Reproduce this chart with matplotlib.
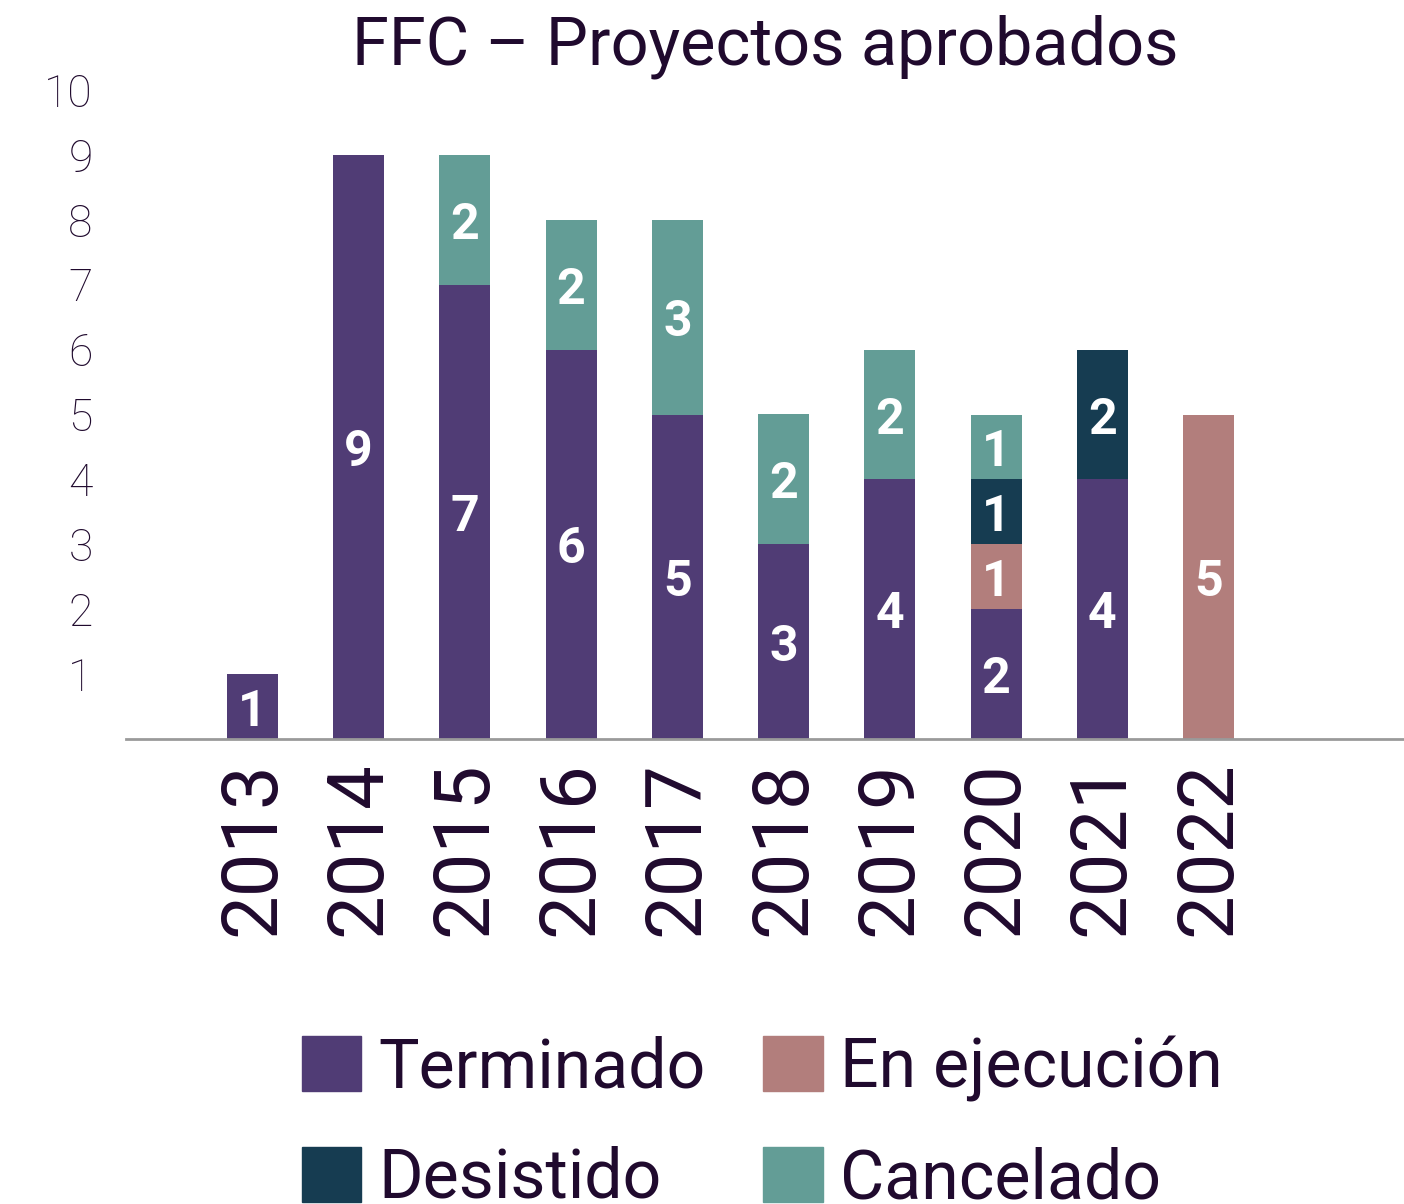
import matplotlib
matplotlib.use("Agg")
import matplotlib.pyplot as plt
import numpy as np
from matplotlib.patches import Patch

plt.rcParams['font.family'] = ['Roboto', 'DejaVu Sans']

years = ["2013", "2014", "2015", "2016", "2017", "2018", "2019", "2020", "2021", "2022"]
terminado = [1, 9, 7, 6, 5, 3, 4, 2, 4, 0]
en_ejecucion = [0, 0, 0, 0, 0, 0, 0, 1, 0, 5]
desistido = [0, 0, 0, 0, 0, 0, 0, 1, 2, 0]
cancelado = [0, 0, 2, 2, 3, 2, 2, 1, 0, 0]

series = [
    ("Terminado", terminado, "#503c75"),
    ("En ejecución", en_ejecucion, "#b27e7c"),
    ("Desistido", desistido, "#163c51"),
    ("Cancelado", cancelado, "#639d96"),
]

text_color = "#200a2e"

fig = plt.figure(figsize=(14.04, 12.04), dpi=100)
ax = fig.add_axes([126 / 1404, 1 - 739 / 1204, 1 - 126 / 1404, (739 - 90) / 1204])

x = np.arange(len(years))
bottom = np.zeros(len(years))
for name, vals, color in series:
    vals = np.array(vals, dtype=float)
    bars = ax.bar(x, vals, width=0.48, bottom=bottom, color=color, label=name, zorder=2)
    labels = [str(int(v)) if v > 0 else "" for v in vals]
    ax.bar_label(bars, labels=labels, label_type="center", color="white",
                 fontsize=36, fontweight="bold", padding=-4)
    bottom += vals

ax.set_xlim(-1.19, 10.84)
ax.set_ylim(0, 10)
ax.set_yticks(range(1, 11))
ax.set_yticklabels([str(i) for i in range(1, 11)])
ax.set_xticks(x)
ax.set_xticklabels(years, rotation=90)

ax.tick_params(axis="y", length=0, pad=24, labelsize=32, labelcolor=text_color)
ax.tick_params(axis="x", length=0, pad=16, labelsize=56, labelcolor=text_color)
for lab in ax.get_yticklabels():
    lab.set_fontweight("light")

for side in ["top", "right", "left"]:
    ax.spines[side].set_visible(False)
ax.spines["bottom"].set_color("#9a9a9a")
ax.spines["bottom"].set_linewidth(2)

fig.text(765 / 1404, 1 - 47 / 1204, "FFC – Proyectos aprobados", ha="center", va="center",
         fontsize=48, fontweight="normal", color=text_color)

handles = [Patch(color=c) for _, _, c in series]
names = [n for n, _, _ in series]
order = [0, 2, 1, 3]
leg = fig.legend([handles[i] for i in order], [names[i] for i in order],
                 loc="upper left", bbox_to_anchor=(302 / 1404, 1 - 1035 / 1204),
                 ncol=2, frameon=False, fontsize=49, handlelength=0.87, handleheight=0.87,
                 handletextpad=0.25, columnspacing=0.85, labelspacing=0.66, borderpad=0,
                 borderaxespad=0)
for t in leg.get_texts():
    t.set_color(text_color)

fig.savefig("out.png", dpi=100)
